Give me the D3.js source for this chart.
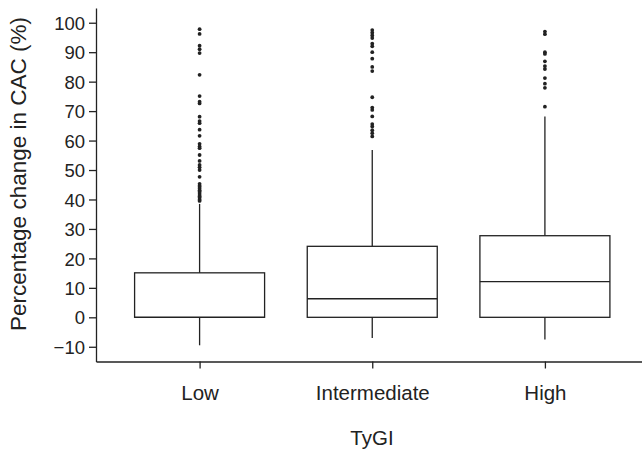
<!DOCTYPE html>
<html><head><meta charset="utf-8">
<script src="https://cdn.jsdelivr.net/npm/d3@7"></script>
<style>body{margin:0;background:#fff}svg{display:block}text{font-family:Arial,"Liberation Sans",sans-serif;fill:#222}</style>
</head><body><svg id="c" width="642" height="450"></svg>
<script>
const categories = ["Low", "Intermediate", "High"];
const whiskerLow = [-9.5, -7, -7.5];
const q1 = [0, 0, 0];
const median = [0, 6.3, 12.1];
const q3 = [15.1, 24.1, 27.7];
const whiskerHigh = [38.5, 56.8, 68.2];
const outliersLow = [97.8, 96.2, 92.2, 91.0, 89.7, 82.3, 75.1, 73.2, 72.6, 68.1, 66.6, 65.9, 63.7, 61.6, 58.9, 58.0, 57.4, 55.1, 53.1, 51.7, 50.9, 50.0, 47.7, 45.3, 44.7, 44.2, 43.6, 43.0, 42.9, 42.2, 41.5, 41.0, 40.6, 39.9, 39.5];
const outliersIntermediate = [97.5, 96.6, 95.7, 94.8, 92.9, 92.0, 90.0, 87.8, 85.0, 83.6, 74.7, 71.2, 70.4, 68.2, 65.6, 64.8, 63.5, 62.5, 61.4];
const outliersHigh = [97.0, 96.1, 90.0, 89.4, 86.9, 85.3, 84.3, 81.2, 79.3, 77.9, 71.5];
const outliers = [outliersLow, outliersIntermediate, outliersHigh];
const yTicks = [-10, 0, 10, 20, 30, 40, 50, 60, 70, 80, 90, 100];

const svg = d3.select("#c");
const x = d3.scalePoint().domain(categories).range([96, 648.5]).padding(0.6);
const y = d3.scaleLinear().domain([-15, 105]).range([361.5, 8]);
const boxW = 130;
const col = "#222";

// axes
const ya = svg.append("g").attr("transform","translate(96,0)")
  .call(d3.axisLeft(y).tickValues(yTicks).tickSize(7).tickSizeOuter(0).tickFormat(d=>d<0?"\u2212"+Math.abs(d):d));
const xa = svg.append("g").attr("transform","translate(0,361.5)")
  .call(d3.axisBottom(x).tickSize(7).tickSizeOuter(0));
[ya,xa].forEach(g=>{g.selectAll("path,line").attr("stroke",col).attr("stroke-width",1.3);
  g.selectAll("text").style("font-family","Arial, 'Liberation Sans', sans-serif").attr("fill","#222");});
ya.selectAll("text").style("font-size","18.5px").attr("dx","-1").attr("dy","0.36em");
xa.selectAll("text").style("font-size","20.5px").attr("dy","1.4em");

const g = svg.append("g");
categories.forEach((c,i)=>{
  const cx = x(c);
  g.append("line").attr("x1",cx).attr("x2",cx).attr("y1",y(whiskerHigh[i])).attr("y2",y(q3[i])).attr("stroke",col).attr("stroke-width",1.3);
  g.append("line").attr("x1",cx).attr("x2",cx).attr("y1",y(q1[i])).attr("y2",y(whiskerLow[i])).attr("stroke",col).attr("stroke-width",1.3);
  g.append("rect").attr("x",cx-boxW/2).attr("width",boxW).attr("y",y(q3[i])).attr("height",y(q1[i])-y(q3[i]))
    .attr("fill","none").attr("stroke",col).attr("stroke-width",1.3);
  g.append("line").attr("x1",cx-boxW/2).attr("x2",cx+boxW/2).attr("y1",y(median[i])).attr("y2",y(median[i])).attr("stroke",col).attr("stroke-width",1.3);
  g.selectAll(null).data(outliers[i]).enter().append("circle")
    .attr("cx",cx).attr("cy",d=>y(d)).attr("r",1.9).attr("fill","#222");
});

svg.append("text").attr("x",372).attr("y",445).attr("text-anchor","middle").style("font-size","20.5px").text("TyGI");
svg.append("text").attr("transform","translate(26,174) rotate(-90)").attr("text-anchor","middle").style("font-size","22.5px").text("Percentage change in CAC (%)");
</script></body></html>
